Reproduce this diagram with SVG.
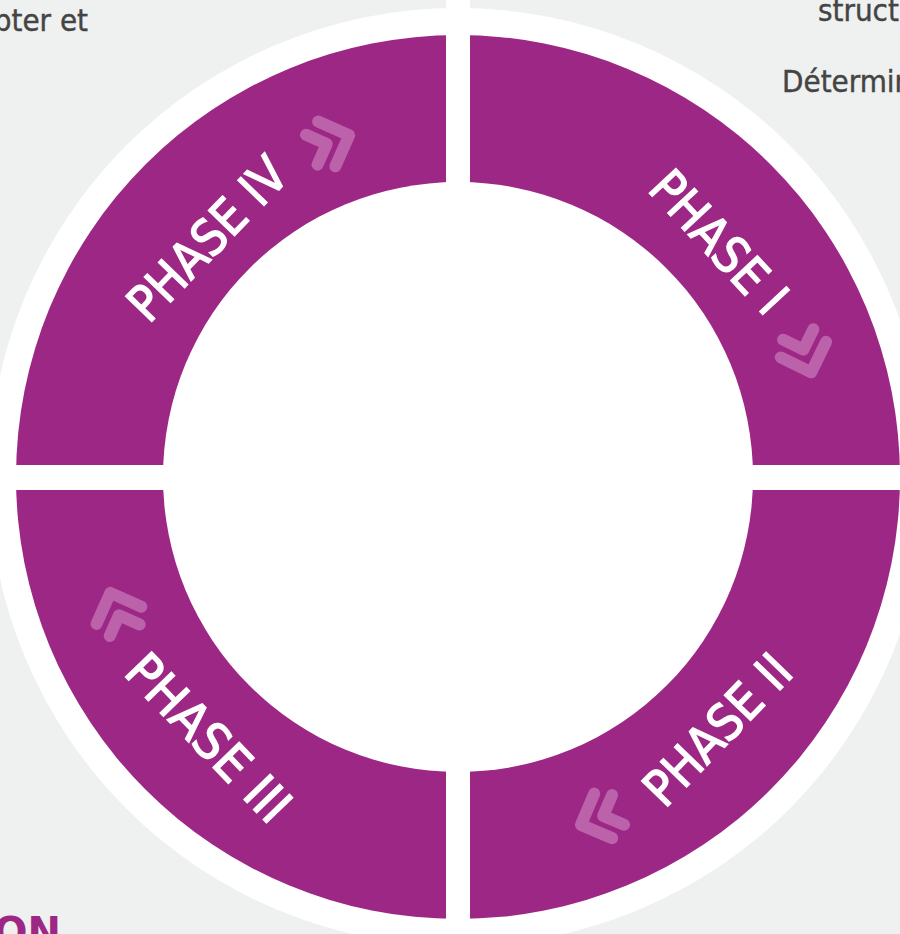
<svg xmlns="http://www.w3.org/2000/svg" width="900" height="934" viewBox="0 0 900 934">
<defs>
<style>
.ph{fill:#ffffff;stroke:#ffffff;stroke-width:1.3;font-family:"DejaVu Sans Condensed","Liberation Sans",sans-serif;font-size:50px;font-weight:normal;text-anchor:middle}
.side{fill:#444444;stroke:#444444;stroke-width:0.4;font-family:"DejaVu Sans Condensed","Liberation Sans Narrow",sans-serif;font-size:31px}
.chev{fill:none;stroke:#bb62ab;stroke-width:12;stroke-linecap:round;stroke-linejoin:round}
</style>
<g id="chevs">
<polyline class="chev" points="-11,-24 13,0 -11,24"/>
<polyline class="chev" points="-27,-16 -11,0 -27,16"/>
</g>
</defs>
<rect width="900" height="934" fill="#eff0f0"/>
<text class="side" x="88" y="31" text-anchor="end">pter et</text>
<text class="side" x="818" y="21">struct</text>
<text class="side" x="782" y="92">Détermin</text>
<circle cx="458" cy="477" r="469" fill="#ffffff"/>
<g id="ring">
<circle cx="458" cy="477" r="442" fill="#9d2785"/>
<circle cx="458" cy="477" r="295" fill="#ffffff"/>
<rect x="446" y="0" width="24" height="934" fill="#ffffff"/>
<rect x="0" y="465" width="900" height="25" fill="#ffffff"/>
</g>
<g id="phase-iv">
<use href="#chevs" transform="translate(337,140) rotate(-21)"/>
<text class="ph" transform="translate(220,251) rotate(-46)" textLength="205" lengthAdjust="spacingAndGlyphs">PHASE IV</text>
</g>
<g id="phase-i">
<use href="#chevs" transform="translate(807,360) rotate(71)"/>
<text class="ph" transform="translate(706,254) rotate(47)" textLength="175" lengthAdjust="spacingAndGlyphs">PHASE I</text>
</g>
<g id="phase-ii">
<use href="#chevs" transform="translate(593,820) rotate(158)"/>
<text class="ph" transform="translate(730,742) rotate(-46)" textLength="188" lengthAdjust="spacingAndGlyphs">PHASE II</text>
</g>
<g id="phase-iii">
<use href="#chevs" transform="translate(115,605) rotate(-111)"/>
<text class="ph" transform="translate(196,750) rotate(46)" textLength="212" lengthAdjust="spacingAndGlyphs">PHASE III</text>
</g>
<g id="connectors"/>
<text x="61" y="946" fill="#9d2785" font-family="DejaVu Sans,sans-serif" font-size="40" font-weight="bold" text-anchor="end">ON</text>
</svg>
